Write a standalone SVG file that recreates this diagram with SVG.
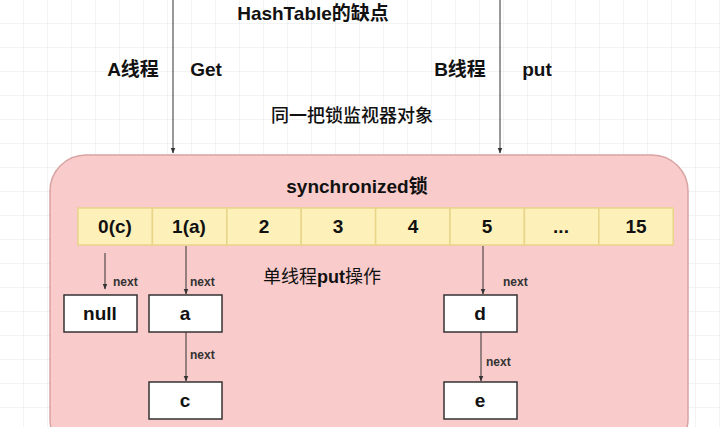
<svg xmlns="http://www.w3.org/2000/svg" width="720" height="427" viewBox="0 0 720 427">
<defs>
<pattern id="g" width="24" height="24" patternUnits="userSpaceOnUse"><path d="M24 0V24H0" fill="none" stroke="#e6e6e6" stroke-width="1"/></pattern>
<marker id="ar" viewBox="0 0 10 10" refX="9" refY="5" markerWidth="6" markerHeight="6" orient="auto"><path d="M0,1 L10,5 L0,9 z" fill="#333"/></marker>
<style>
text{font-family:"Liberation Sans","Noto Sans CJK SC",sans-serif;fill:#111;text-anchor:middle}
.b{font-weight:bold;font-size:19px}
.n{font-size:12px;font-weight:bold;text-anchor:start;fill:#333}
.cell{fill:#fdf0b8;stroke:#e8d58a;stroke-width:1.5}
.node{fill:#fff;stroke:#333;stroke-width:1.5}
.c{stroke:#333;stroke-width:1;fill:none;marker-end:url(#ar)}
</style>
</defs>
<rect width="720" height="427" fill="#fff"/>
<rect width="720" height="427" fill="url(#g)"/>
<g id="lock"><rect x="50" y="155" width="638" height="300" rx="36" fill="#f9cbcb" stroke="#d9a3a3" stroke-width="1.5"/>
<text class="b" x="357" y="193">synchronized锁</text></g>
<text class="b" x="313" y="20">HashTable的缺点</text>
<text class="b" x="133" y="76">A线程</text><text class="b" x="206" y="76">Get</text>
<text class="b" x="460" y="76">B线程</text><text class="b" x="537" y="76">put</text>
<text x="352" y="122" style="font-size:18px;font-weight:500">同一把锁监视器对象</text>
<g id="array">
<rect class="cell" x="78" y="208" width="74.4" height="37"/><rect class="cell" x="152.4" y="208" width="74.4" height="37"/><rect class="cell" x="226.8" y="208" width="74.4" height="37"/><rect class="cell" x="301.2" y="208" width="74.4" height="37"/><rect class="cell" x="375.6" y="208" width="74.4" height="37"/><rect class="cell" x="450" y="208" width="74.4" height="37"/><rect class="cell" x="524.4" y="208" width="74.4" height="37"/><rect class="cell" x="598.8" y="208" width="74.4" height="37"/>
<text class="b" x="115" y="233">0(c)</text><text class="b" x="189" y="233">1(a)</text><text class="b" x="264" y="233">2</text><text class="b" x="338" y="233">3</text><text class="b" x="413" y="233">4</text><text class="b" x="487" y="233">5</text><text class="b" x="561" y="233">...</text><text class="b" x="636" y="233">15</text>
</g>
<g id="null"><rect class="node" x="64" y="295" width="73" height="37"/><text class="b" x="100" y="320">null</text></g>
<g id="a"><rect class="node" x="149" y="295" width="73" height="37"/><text class="b" x="185" y="320">a</text></g>
<g id="c"><rect class="node" x="149" y="382" width="73" height="37"/><text class="b" x="185" y="407">c</text></g>
<g id="d"><rect class="node" x="444" y="295" width="73" height="37"/><text class="b" x="480" y="320">d</text></g>
<g id="e"><rect class="node" x="444" y="382" width="73" height="37"/><text class="b" x="480" y="407">e</text></g>
<text x="322" y="283" style="font-size:18px">单线程<tspan font-weight="bold">put</tspan>操作</text>
<g id="connectors">
<line class="c" x1="173" y1="0" x2="173" y2="153"/>
<line class="c" x1="500" y1="0" x2="500" y2="153"/>
<line class="c" x1="105" y1="253" x2="105" y2="289"/>
<line class="c" x1="186" y1="246" x2="186" y2="294"/>
<line class="c" x1="186" y1="332" x2="186" y2="381"/>
<line class="c" x1="483" y1="246" x2="483" y2="294"/>
<line class="c" x1="481" y1="332" x2="481" y2="381"/>
<text class="n" x="113" y="286">next</text><text class="n" x="190" y="286">next</text><text class="n" x="190" y="359">next</text><text class="n" x="503" y="286">next</text><text class="n" x="486" y="366">next</text>
</g>
</svg>
